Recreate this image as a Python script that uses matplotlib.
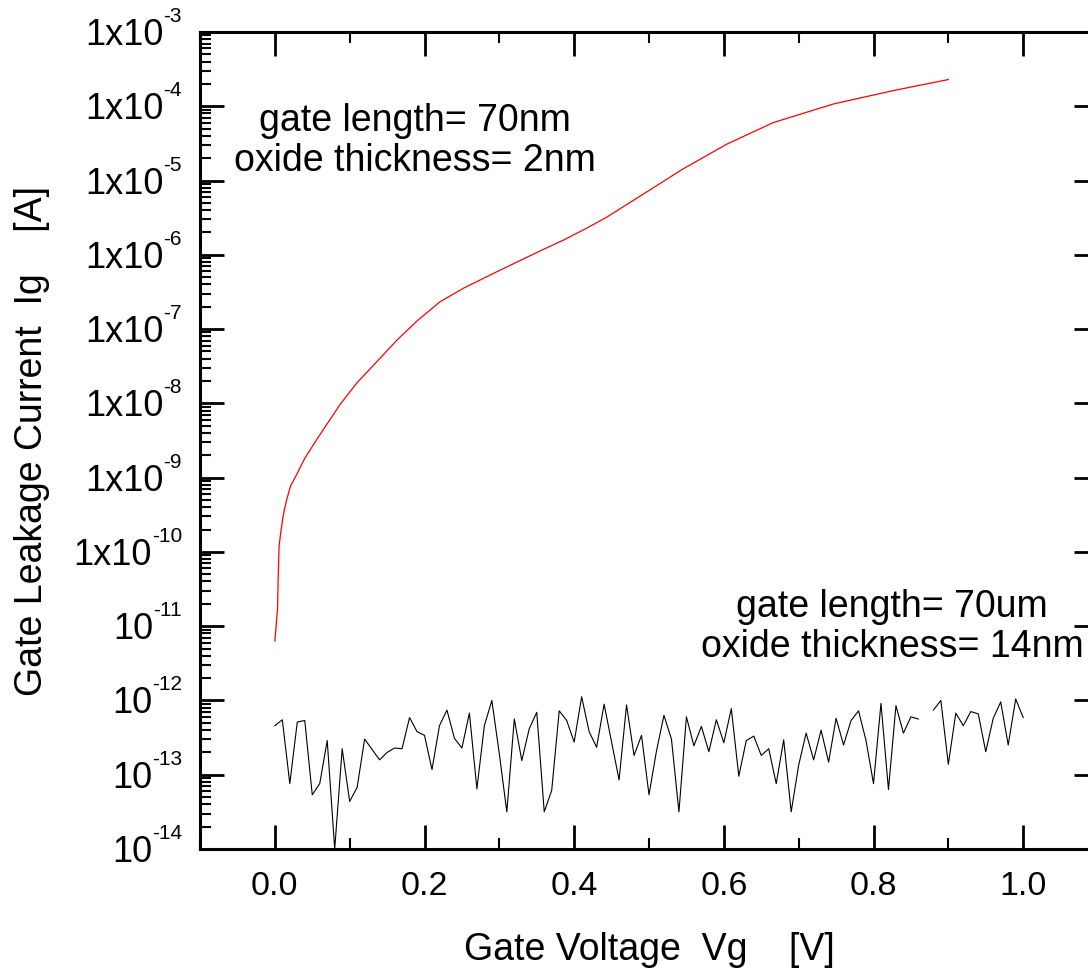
import numpy as np
import matplotlib
matplotlib.use("Agg")
import matplotlib.pyplot as plt
from matplotlib.ticker import LogLocator, MultipleLocator, NullFormatter, FormatStrFormatter
from matplotlib.transforms import offset_copy

plt.rcParams['font.family'] = ['Liberation Sans', 'DejaVu Sans']

# short channel: gate length 70 nm, oxide 2 nm  (log10 of Ig in A)
vg_short = [0.0, 0.0036, 0.0044, 0.0057, 0.008, 0.011, 0.015, 0.021, 0.028,
            0.040, 0.057, 0.065, 0.0875, 0.11, 0.139, 0.163, 0.19, 0.221,
            0.252, 0.288, 0.323, 0.354, 0.386, 0.417, 0.444, 0.51, 0.546,
            0.604, 0.666, 0.746, 0.826, 0.90]
log_ig_short = [-11.20, -10.77, -10.37, -9.92, -9.73, -9.52, -9.33, -9.11, -8.98,
                -8.74, -8.47, -8.35, -8.01, -7.72, -7.41, -7.15, -6.89, -6.63,
                -6.45, -6.27, -6.10, -5.95, -5.80, -5.64, -5.49, -5.07, -4.84,
                -4.51, -4.22, -3.97, -3.79, -3.64]

# long channel: gate length 70 um, oxide 14 nm, 10 mV steps (0.87 V missing)
vg_long = np.linspace(0.0, 1.0, 101)
log_ig_long = [-12.34, -12.26, -13.12, -12.29, -12.27, -13.27, -13.12, -12.54, -14.00, -12.65,
               -13.36, -13.17, -12.52, -12.66, -12.80, -12.70, -12.64, -12.65, -12.23, -12.42,
               -12.47, -12.93, -12.34, -12.13, -12.51, -12.64, -12.17, -13.19, -12.34, -12.00,
               -12.72, -13.50, -12.25, -12.81, -12.38, -12.16, -13.50, -13.21, -12.14, -12.27,
               -12.56, -11.95, -12.42, -12.63, -12.05, -12.56, -13.07, -12.06, -12.74, -12.47,
               -13.27, -12.68, -12.20, -12.52, -13.50, -12.22, -12.61, -12.35, -12.69, -12.26,
               -12.57, -12.11, -13.02, -12.54, -12.48, -12.74, -12.65, -13.12, -12.53, -13.50,
               -12.87, -12.44, -12.80, -12.40, -12.83, -12.24, -12.60, -12.27, -12.14, -12.54,
               -13.12, -12.04, -13.20, -12.07, -12.44, -12.22, -12.25, np.nan, -12.13, -12.00,
               -12.86, -12.17, -12.34, -12.15, -12.18, -12.69, -12.24, -12.02, -12.60, -11.98,
               -12.23]

fig = plt.figure(figsize=(10.88, 9.70), dpi=100)
ax = fig.add_axes([200/1088, 1-850/970, 898/1088, 817/970])

ax.plot(vg_short, 10.0**np.array(log_ig_short), color='red', lw=0.9)
ax.plot(vg_long, 10.0**np.array(log_ig_long), color='black', lw=0.8)

ax.set_yscale('log')
ax.set_ylim(1e-14, 1e-3)
ax.set_xlim(-0.1, 1.1)

ax.yaxis.set_major_locator(LogLocator(base=10, numticks=30))
ax.yaxis.set_minor_locator(LogLocator(base=10, subs=np.arange(2, 10), numticks=30))
ax.yaxis.set_minor_formatter(NullFormatter())
ax.xaxis.set_major_locator(MultipleLocator(0.2))
ax.xaxis.set_minor_locator(MultipleLocator(0.1))
ax.xaxis.set_major_formatter(FormatStrFormatter('%.1f'))

for s in ax.spines.values():
    s.set_linewidth(2.2)
ax.tick_params(which='major', direction='in', length=17, width=2, top=True, right=True,
               labelleft=False, labelsize=24.5, pad=15)
ax.tick_params(which='minor', direction='in', length=8, width=1.5, top=True, right=False)

# y labels drawn as base + raised exponent
renderer = fig.canvas.get_renderer()
ytrans = ax.get_yaxis_transform()
for e in range(-14, -2):
    y = 10.0**e
    sup = ax.text(-0.02, y, str(e), fontsize=15, ha='right', va='baseline',
                  transform=offset_copy(ytrans, fig, y=11, units='dots'))
    w = sup.get_window_extent(renderer).width
    base = '1x10' if e >= -10 else '10'
    ax.text(-0.02, y, base, fontsize=26, ha='right', va='baseline',
            transform=offset_copy(ytrans, fig, x=-w, y=-12, units='dots'))

fig.text(649/1088, 1-960/970, 'Gate Voltage  Vg    [V]', fontsize=27,
         ha='center', va='baseline')
fig.text(32/1088, 1-441/970, 'Gate Leakage Current  Ig    [A]', fontsize=27,
         rotation=90, ha='center', va='center')

fig.text(415/1088, 1-141/970, 'gate length= 70nm\noxide thickness= 2nm', fontsize=27,
         ha='center', va='center', multialignment='center', linespacing=1.15)
fig.text(892/1088, 1-627/970, 'gate length= 70um\noxide thickness= 14nm', fontsize=27,
         ha='center', va='center', multialignment='center', linespacing=1.15)

fig.savefig('out.png', dpi=100)
